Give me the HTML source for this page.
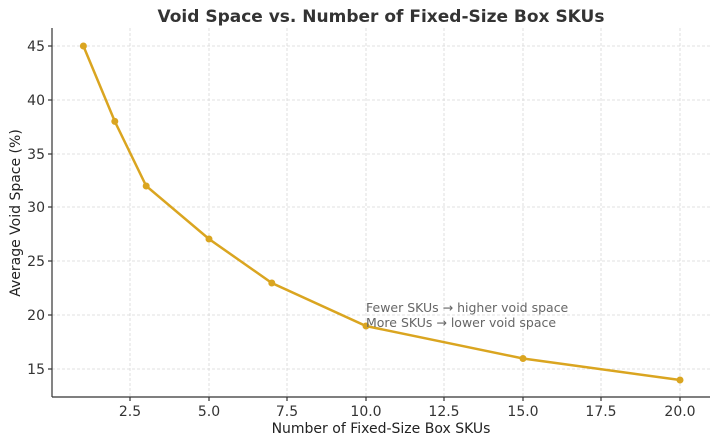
<!DOCTYPE html>
<html><head><meta charset="utf-8"><style>body{margin:0;background:#fff}svg{display:block;font-family:"DejaVu Sans","Liberation Sans",sans-serif}</style></head><body>
<svg width="720" height="444" viewBox="0 0 720 444">
<text x="381" y="22" text-anchor="middle" font-size="17" font-weight="bold" fill="#333">Void Space vs. Number of Fixed-Size Box SKUs</text>
<g stroke="#d8d8d8" stroke-width="0.8" stroke-dasharray="3,2">
<line x1="130" y1="28" x2="130" y2="397"/><line x1="209" y1="28" x2="209" y2="397"/><line x1="287" y1="28" x2="287" y2="397"/><line x1="366" y1="28" x2="366" y2="397"/><line x1="444" y1="28" x2="444" y2="397"/><line x1="523" y1="28" x2="523" y2="397"/><line x1="601" y1="28" x2="601" y2="397"/><line x1="680" y1="28" x2="680" y2="397"/>
<line x1="52" y1="369" x2="710" y2="369"/><line x1="52" y1="315" x2="710" y2="315"/><line x1="52" y1="261" x2="710" y2="261"/><line x1="52" y1="207" x2="710" y2="207"/><line x1="52" y1="154" x2="710" y2="154"/><line x1="52" y1="100" x2="710" y2="100"/><line x1="52" y1="46" x2="710" y2="46"/>
</g>
<g stroke="#333" stroke-width="1.2">
<line x1="52" y1="28" x2="52" y2="397"/><line x1="52" y1="397" x2="710" y2="397"/>
<line x1="130" y1="397" x2="130" y2="401"/><line x1="209" y1="397" x2="209" y2="401"/><line x1="287" y1="397" x2="287" y2="401"/><line x1="366" y1="397" x2="366" y2="401"/><line x1="444" y1="397" x2="444" y2="401"/><line x1="523" y1="397" x2="523" y2="401"/><line x1="601" y1="397" x2="601" y2="401"/><line x1="680" y1="397" x2="680" y2="401"/>
<line x1="48" y1="369" x2="52" y2="369"/><line x1="48" y1="315" x2="52" y2="315"/><line x1="48" y1="261" x2="52" y2="261"/><line x1="48" y1="207" x2="52" y2="207"/><line x1="48" y1="154" x2="52" y2="154"/><line x1="48" y1="100" x2="52" y2="100"/><line x1="48" y1="46" x2="52" y2="46"/>
</g>
<g font-size="14" fill="#333" text-anchor="middle">
<text x="130" y="416">2.5</text><text x="209" y="416">5.0</text><text x="287" y="416">7.5</text><text x="366" y="416">10.0</text><text x="444" y="416">12.5</text><text x="523" y="416">15.0</text><text x="601" y="416">17.5</text><text x="680" y="416">20.0</text>
</g>
<g font-size="14" fill="#333" text-anchor="end">
<text x="45" y="374">15</text><text x="45" y="320">20</text><text x="45" y="266">25</text><text x="45" y="212">30</text><text x="45" y="159">35</text><text x="45" y="105">40</text><text x="45" y="51">45</text>
</g>
<text x="381" y="433" text-anchor="middle" font-size="14" fill="#222">Number of Fixed-Size Box SKUs</text>
<text transform="translate(20,213) rotate(-90)" text-anchor="middle" font-size="14" fill="#222">Average Void Space (%)</text>
<polyline fill="none" stroke="#DAA520" stroke-width="2.5" points="83.4,46 114.8,121.4 146.2,186 209,239 271.8,283 366,326 523,358.5 680,380"/>
<g fill="#DAA520">
<circle cx="83.4" cy="46" r="3.5"/><circle cx="114.8" cy="121.4" r="3.5"/><circle cx="146.2" cy="186" r="3.5"/><circle cx="209" cy="239" r="3.5"/><circle cx="271.8" cy="283" r="3.5"/><circle cx="366" cy="326" r="3.5"/><circle cx="523" cy="358.5" r="3.5"/><circle cx="680" cy="380" r="3.5"/>
</g>
<g font-size="12.5" fill="#666">
<text x="366" y="312">Fewer SKUs → higher void space</text>
<text x="366" y="327">More SKUs → lower void space</text>
</g>
</svg>
</body></html>
